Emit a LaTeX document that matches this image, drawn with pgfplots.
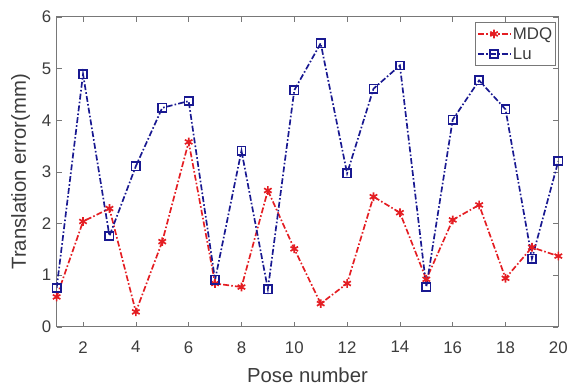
\documentclass[border=0pt]{standalone}
\usepackage{fontspec}
\setmainfont{Liberation Sans}
\usepackage{pgfplots}
\pgfplotsset{compat=1.18}
\definecolor{axgray}{RGB}{120,120,120}
\definecolor{txtgray}{RGB}{60,60,60}
\definecolor{mred}{RGB}{228,30,35}
\definecolor{mblue}{RGB}{25,25,145}
\begin{document}
\begin{tikzpicture}
\begin{axis}[
  scale only axis, width=505bp, height=312bp,
  xmin=1, xmax=20, ymin=0, ymax=6,
  xtick={2,4,...,20}, ytick={0,1,...,6},
  tick align=inside, major tick length=5bp,
  axis line style={axgray, line width=0.8pt},
  every tick/.style={axgray, line width=0.6pt},
  tick label style={txtgray, font=\fontsize{17}{17}\selectfont},
  xticklabel style={yshift=-11bp},
  yticklabel style={xshift=-2bp},
  /pgf/number format/assume math mode=true,
  label style={txtgray, font=\fontsize{20.5}{20.5}\selectfont},
  xlabel={Pose number}, ylabel={Translation error(mm)},
  xlabel style={yshift=-8bp},
  ylabel style={yshift=5bp},
  legend style={at={(0.995,0.983)}, anchor=north east, draw=axgray, fill=white,
    font=\fontsize{17}{17}\selectfont, text=txtgray, inner xsep=1.5pt, inner ysep=3pt, row sep=3pt},
  legend cell align=left,
  legend image code/.code={\draw[mark repeat=2,mark phase=2] plot coordinates {(0cm,0cm)(0.57cm,0cm)(1.14cm,0cm)};},
]
\addplot[mred, line width=1.7pt, dash pattern=on 6pt off 2.2pt on 1.6pt off 2.2pt,
  mark=asterisk, mark size=4.4pt, mark options={solid, line width=1.7pt}]
coordinates {(1,0.58)(2,2.04)(3,2.29)(4,0.29)(5,1.65)(6,3.58)(7,0.84)(8,0.77)(9,2.64)(10,1.51)
(11,0.45)(12,0.84)(13,2.52)(14,2.21)(15,0.92)(16,2.07)(17,2.36)(18,0.94)(19,1.54)(20,1.37)};
\addlegendentry{MDQ}
\addplot[mblue, line width=1.7pt, dash pattern=on 6pt off 2.2pt on 1.6pt off 2.2pt,
  mark=square, mark size=4.2pt, mark options={solid, line width=1.6pt}]
coordinates {(1,0.75)(2,4.89)(3,1.76)(4,3.11)(5,4.24)(6,4.37)(7,0.91)(8,3.41)(9,0.73)(10,4.58)
(11,5.49)(12,2.97)(13,4.61)(14,5.06)(15,0.77)(16,4.01)(17,4.77)(18,4.21)(19,1.32)(20,3.21)};
\addlegendentry{Lu}
\end{axis}
\path (current axis.south west) ++(-57bp,-57bp);
\path (current axis.north east) ++(9bp,17bp);
\end{tikzpicture}
\end{document}
